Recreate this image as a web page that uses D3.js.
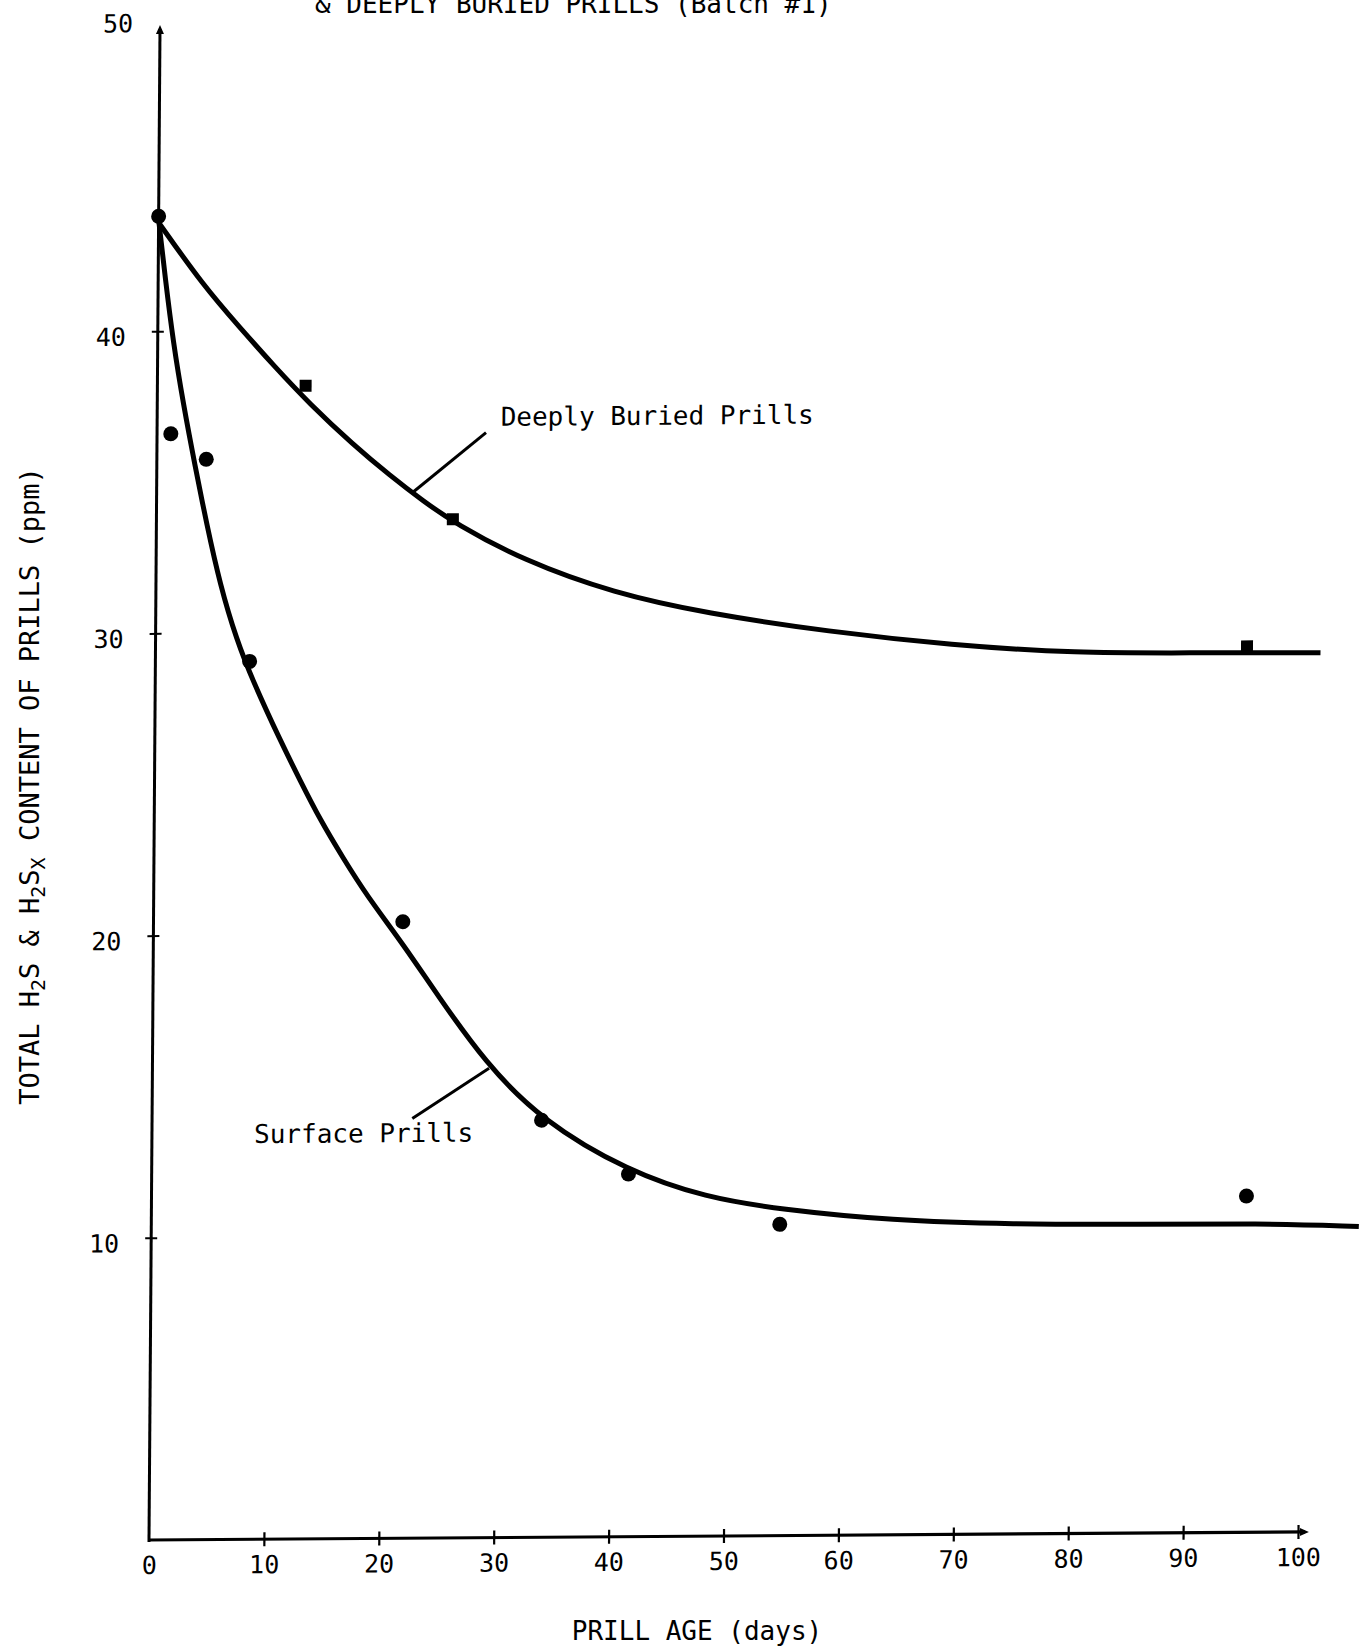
<!DOCTYPE html>
<html>
<head>
<meta charset="utf-8">
<script src="https://cdn.jsdelivr.net/npm/d3@7"></script>
<style>
  body { margin: 0; background: #fff; }
  text { font-family: "DejaVu Sans Mono", monospace; fill: #000; }
</style>
</head>
<body>
<div class="chart"></div>
<script>
// measured points (days, ppm)
var surfaceDays = [0, 1.2, 4.3, 8.2, 21.7, 33.9, 41.5, 54.7, 95.3];
var surfacePpm = [43.8, 36.6, 35.75, 29.05, 20.4, 13.8, 12.0, 10.3, 11.13];

var deepDays = [12.9, 25.8, 95.0];
var deepPpm = [38.16, 33.71, 29.32];

// hand drawn fit curves
var surfaceFitDays = [0, 0.6, 1.36, 2.26, 3.32, 4.38, 5.58, 7.06, 8.5, 10.9, 12.66, 14.43, 16.5, 18.5, 21.76, 24.7, 29.0, 33.9, 41.4, 48.3, 54.7, 64.4, 75, 85.7, 96.4, 105.1];
var surfaceFitPpm = [43.7, 41.8, 39.6, 37.6, 35.55, 33.6, 31.6, 29.76, 28.4, 26.44, 25.11, 23.8, 22.5, 21.3, 19.65, 18.0, 15.7, 13.8, 12.1, 11.2, 10.8, 10.4, 10.25, 10.22, 10.22, 10.1];

var deepFitDays = [0, 3.93, 7.15, 10.07, 13.29, 17.08, 20.3, 23.2, 26.0, 31.9, 39.9, 47.9, 58.6, 69.3, 80.0, 90.7, 101.4];
var deepFitPpm = [43.6, 41.5, 40.1, 38.85, 37.55, 36.2, 35.17, 34.32, 33.57, 32.34, 31.22, 30.54, 29.9, 29.43, 29.13, 29.12, 29.09];

var xTicks = [0, 10, 20, 30, 40, 50, 60, 70, 80, 90, 100];
var yTicks = [10, 20, 30, 40, 50];

var svgWidth = 1363;
var svgHeight = 1648;

var origin = { x: 149, y: 1540 };
var chartWidth = 1149;
var chartHeight = 1511;

// the scan is slightly skewed, so the plot group is sheared a bit
var skewX = -0.00728;
var skewY = -0.00695;

var svg = d3.select(".chart")
  .append("svg")
  .attr("width", svgWidth)
  .attr("height", svgHeight);

svg.append("rect")
  .attr("width", svgWidth)
  .attr("height", svgHeight)
  .attr("fill", "#fff");

var chartGroup = svg.append("g")
  .attr("transform", `matrix(1, ${skewY}, ${skewX}, 1, ${origin.x}, ${origin.y})`);

var xScale = d3.scaleLinear().domain([0, 100]).range([0, chartWidth]);
var yScale = d3.scaleLinear().domain([0, 50]).range([0, -chartHeight]);

// axes lines
chartGroup.append("line")
  .attr("x1", 0).attr("y1", 2)
  .attr("x2", 0).attr("y2", yScale(50))
  .attr("stroke", "#000").attr("stroke-width", 3);

chartGroup.append("line")
  .attr("x1", -1).attr("y1", 0)
  .attr("x2", xScale(100.6)).attr("y2", 0)
  .attr("stroke", "#000").attr("stroke-width", 3.2);

// arrow heads
chartGroup.append("path")
  .attr("d", `M0,${yScale(50) - 4} l-4,9 l8,0 z`)
  .attr("fill", "#000");
chartGroup.append("path")
  .attr("d", `M${xScale(100.6) + 4},0 l-9,-4 l0,8 z`)
  .attr("fill", "#000");

// x axis ticks
var bottomAxis = d3.axisBottom(xScale).tickValues(xTicks).tickSize(7);
var xAxis = chartGroup.append("g").call(bottomAxis);
xAxis.select(".domain").remove();
xAxis.attr("font-family", null).attr("font-size", null);
xAxis.selectAll(".tick line")
  .attr("y1", -7).attr("y2", 7)
  .attr("stroke", "#000").attr("stroke-width", 2.2)
  .filter(d => d === 0).remove();
xAxis.selectAll(".tick text")
  .attr("y", 34).attr("dy", 0)
  .style("font-size", "25px");

// y axis ticks
var leftAxis = d3.axisLeft(yScale).tickValues(yTicks).tickSize(6);
var yAxis = chartGroup.append("g").call(leftAxis);
yAxis.select(".domain").remove();
yAxis.attr("font-family", null).attr("font-size", null);
yAxis.selectAll(".tick line")
  .attr("x1", -6).attr("x2", 6)
  .attr("stroke", "#000").attr("stroke-width", 2)
  .filter(d => d === 50).remove();
yAxis.selectAll(".tick text")
  .attr("x", -47).attr("dy", "0.55em")
  .attr("text-anchor", "middle")
  .style("font-size", "25px");
// the top label sits a little higher in the original
yAxis.selectAll(".tick text")
  .filter(d => d === 50)
  .attr("x", -42).attr("dy", "0.1em");

// fit curves
var line = d3.line()
  .x(d => xScale(d[0]))
  .y(d => yScale(d[1]))
  .curve(d3.curveBasis);

chartGroup.append("path")
  .datum(d3.zip(surfaceFitDays, surfaceFitPpm))
  .attr("d", line)
  .attr("fill", "none").attr("stroke", "#000").attr("stroke-width", 5)
  .attr("stroke-linejoin", "round");

chartGroup.append("path")
  .datum(d3.zip(deepFitDays, deepFitPpm))
  .attr("d", line)
  .attr("fill", "none").attr("stroke", "#000").attr("stroke-width", 5)
  .attr("stroke-linejoin", "round");

// markers
chartGroup.selectAll(".surface")
  .data(d3.zip(surfaceDays, surfacePpm))
  .enter()
  .append("circle")
  .attr("class", "surface")
  .attr("cx", d => xScale(d[0]))
  .attr("cy", d => yScale(d[1]))
  .attr("r", 7.5)
  .attr("fill", "#000");

chartGroup.selectAll(".deep")
  .data(d3.zip(deepDays, deepPpm))
  .enter()
  .append("rect")
  .attr("class", "deep")
  .attr("x", d => xScale(d[0]) - 6)
  .attr("y", d => yScale(d[1]) - 6)
  .attr("width", 12)
  .attr("height", 12)
  .attr("fill", "#000");

// labels with leader lines
chartGroup.append("line")
  .attr("x1", xScale(22.2)).attr("y1", yScale(34.58))
  .attr("x2", xScale(28.63)).attr("y2", yScale(36.57))
  .attr("stroke", "#000").attr("stroke-width", 3);
chartGroup.append("text")
  .attr("x", xScale(29.9)).attr("y", yScale(36.79))
  .style("font-size", "26px")
  .text("Deeply Buried Prills");

chartGroup.append("line")
  .attr("x1", xScale(22.65)).attr("y1", yScale(13.89))
  .attr("x2", xScale(29.3)).attr("y2", yScale(15.53))
  .attr("stroke", "#000").attr("stroke-width", 3);
chartGroup.append("text")
  .attr("x", xScale(8.89)).attr("y", yScale(13.11))
  .style("font-size", "26px")
  .text("Surface Prills");

// axis titles
svg.append("text")
  .attr("x", 697).attr("y", 1640)
  .attr("text-anchor", "middle")
  .style("font-size", "26px")
  .text("PRILL AGE (days)");

var yTitle = svg.append("text")
  .attr("transform", "translate(39, 786) rotate(-90)")
  .attr("text-anchor", "middle")
  .style("font-size", "27px");
yTitle.append("tspan").text("TOTAL H");
yTitle.append("tspan").attr("dy", 6).style("font-size", "20px").text("2");
yTitle.append("tspan").attr("dy", -6).text("S & H");
yTitle.append("tspan").attr("dy", 6).style("font-size", "20px").text("2");
yTitle.append("tspan").attr("dy", -6).text("S");
yTitle.append("tspan").attr("dy", 6).style("font-size", "20px").text("X");
yTitle.append("tspan").attr("dy", -6).text(" CONTENT OF PRILLS (ppm)");

// chart title, cut off at the top of the page as in the scan
svg.append("text")
  .attr("x", 315).attr("y", 13)
  .style("font-size", "26px")
  .text("& DEEPLY BURIED PRILLS (Batch #1)");
</script>
</body>
</html>
